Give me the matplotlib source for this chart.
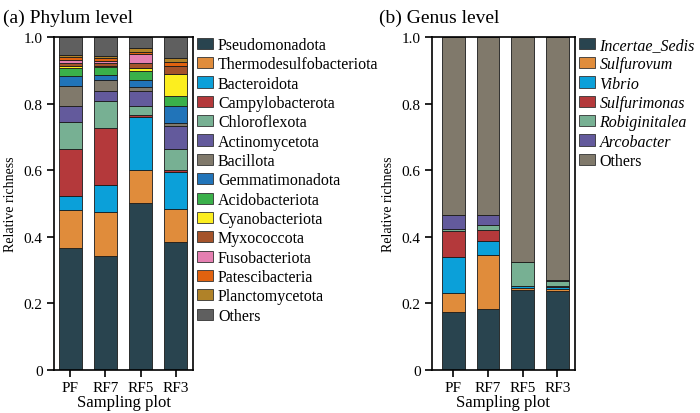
"""
Stacked relative-richness bars at phylum and genus level.
"""

import matplotlib

matplotlib.use("Agg")
import matplotlib.pyplot as plt
import numpy as np
from matplotlib.patches import Patch

plt.rcParams.update({"font.family": ["Liberation Serif", "DejaVu Serif"], "font.size": 10.5})

SAMPLES = ["PF", "RF7", "RF5", "RF3"]

PHYLA = ["Pseudomonadota", "Thermodesulfobacteriota", "Bacteroidota", "Campylobacterota",
         "Chloroflexota", "Actinomycetota", "Bacillota", "Gemmatimonadota", "Acidobacteriota",
         "Cyanobacteriota", "Myxococcota", "Fusobacteriota", "Patescibacteria",
         "Planctomycetota", "Others"]
# one row per phylum, columns PF, RF7, RF5, RF3
PHYLUM_VALUES = [
    [0.367, 0.343, 0.501, 0.385],
    [0.113, 0.131, 0.099, 0.100],
    [0.044, 0.082, 0.159, 0.110],
    [0.141, 0.170, 0.007, 0.005],
    [0.080, 0.081, 0.028, 0.065],
    [0.047, 0.030, 0.045, 0.068],
    [0.062, 0.035, 0.012, 0.010],
    [0.028, 0.014, 0.020, 0.049],
    [0.024, 0.023, 0.026, 0.031],
    [0.008, 0.003, 0.009, 0.066],
    [0.009, 0.009, 0.015, 0.023],
    [0.009, 0.007, 0.028, 0.001],
    [0.008, 0.008, 0.006, 0.011],
    [0.007, 0.007, 0.012, 0.013],
    [0.053, 0.057, 0.033, 0.063],
]
PHYLUM_COLORS = ["#29444f", "#e08c3b", "#0ba0d9", "#b4393b", "#77b093", "#635a9c",
                 "#80796b", "#2174b9", "#3ab04a", "#fcee1f", "#a5532a", "#e57fb1",
                 "#e1620f", "#b08228", "#5f5f5f"]

GENERA = ["Incertae_Sedis", "Sulfurovum", "Vibrio", "Sulfurimonas",
          "Robiginitalea", "Arcobacter", "Others"]
GENUS_VALUES = [
    [0.173, 0.182, 0.240, 0.236],
    [0.057, 0.164, 0.005, 0.007],
    [0.110, 0.042, 0.006, 0.006],
    [0.076, 0.031, 0.002, 0.003],
    [0.007, 0.016, 0.070, 0.016],
    [0.042, 0.030, 0.001, 0.002],
    [0.535, 0.535, 0.676, 0.730],
]
GENUS_COLORS = ["#29444f", "#e08c3b", "#0ba0d9", "#b4393b", "#77b093", "#635a9c", "#80796b"]


def stacked(ax, values, colors, xlim):
    x = np.arange(len(SAMPLES))
    bottom = np.zeros(len(SAMPLES))
    for vals, col in zip(values, colors):
        vals = np.array(vals)
        ax.bar(x, vals, bottom=bottom, width=0.66, color=col,
               edgecolor="#1a1a1a", linewidth=0.6)
        bottom += vals
    ax.set_xlim(*xlim)
    ax.set_ylim(0, 1.0)
    ax.set_xticks(x)
    ax.set_xticklabels(SAMPLES)
    ax.set_yticks([0, 0.2, 0.4, 0.6, 0.8, 1.0])
    ax.set_yticklabels(["0", "0.2", "0.4", "0.6", "0.8", "1.0"])
    ax.tick_params(direction="out", length=5, width=1.2, pad=3, labelsize=11)
    for s in ax.spines.values():
        s.set_linewidth(1.2)
    ax.set_xlabel("Sampling plot", fontsize=12, labelpad=0)
    ax.set_ylabel("Relative richness", fontsize=10, labelpad=5)


def add_legend(ax, labels, colors, italic=False):
    handles = [Patch(facecolor=c, edgecolor="#333333", linewidth=0.6) for c in colors]
    leg = ax.legend(handles, labels, loc="upper left", bbox_to_anchor=(0.995, 1.015),
                    frameon=False, fontsize=11.5, handlelength=1.0, handleheight=0.7,
                    handletextpad=0.3, labelspacing=0.21, borderaxespad=0.2, borderpad=0.1)
    if italic:
        for t in leg.get_texts():
            if t.get_text() != "Others":
                t.set_fontstyle("italic")


fig = plt.figure(figsize=(7.0, 4.14), dpi=100)
ax1 = fig.add_axes([0.077, 0.104, 0.199, 0.804])
ax2 = fig.add_axes([0.617, 0.104, 0.204, 0.804])

stacked(ax1, PHYLUM_VALUES, PHYLUM_COLORS, (-0.47, 3.5))
stacked(ax2, GENUS_VALUES, GENUS_COLORS, (-0.62, 3.5))
add_legend(ax1, PHYLA, PHYLUM_COLORS)
add_legend(ax2, GENERA, GENUS_COLORS, italic=True)

fig.text(0.004, 0.955, "(a) Phylum level", fontsize=14, va="center", ha="left")
fig.text(0.542, 0.955, "(b) Genus level", fontsize=14, va="center", ha="left")

fig.savefig("out.png", dpi=100)
